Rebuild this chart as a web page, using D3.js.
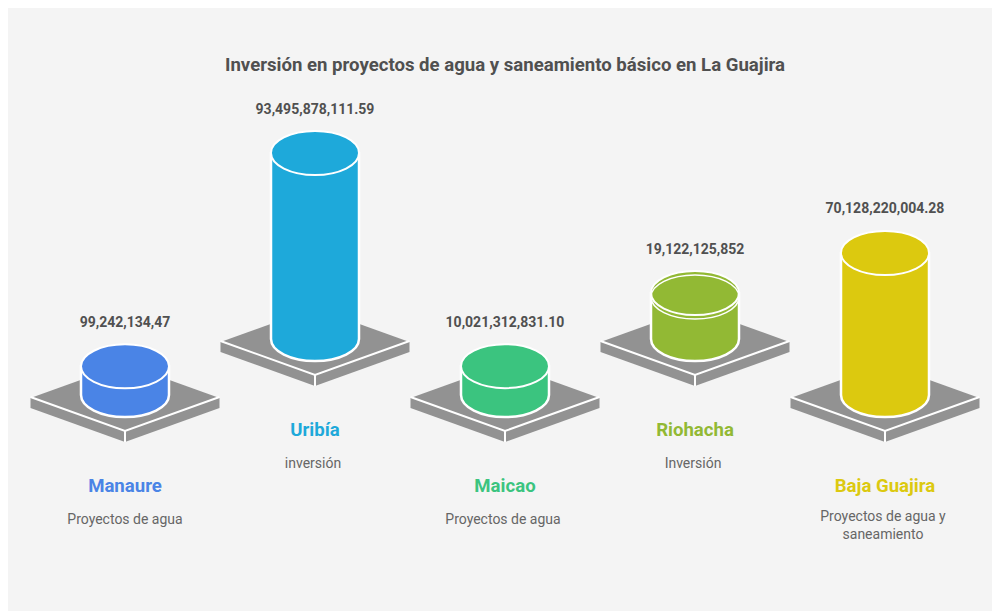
<!DOCTYPE html>
<html>
<head>
  <meta charset="utf-8">
  <title>Inversión en proyectos de agua y saneamiento básico en La Guajira</title>
  <script src="https://d3js.org/d3.v7.min.js"></script>
  <style>
    html, body { margin: 0; padding: 0; background: #fff; }
    svg { display: block; font-family: Roboto, sans-serif; }
  </style>
</head>
<body>
  <div id="chart"></div>
  <script>
    const categories = ["Manaure", "Uribía", "Maicao", "Riohacha", "Baja Guajira"];
    // heights in the picture follow these amounts, in thousands of millions
    const amounts = [9.924, 93.496, 10.021, 19.122, 70.128];
    const valueLabels = ["99,242,134,47", "93,495,878,111.59", "10,021,312,831.10", "19,122,125,852", "70,128,220,004.28"];
    const descriptions = [["Proyectos de agua"], ["inversión"], ["Proyectos de agua"], ["Inversión"], ["Proyectos de agua y", "saneamiento"]];
    const colors = ["#4a84e6", "#1ea9da", "#3bc47f", "#92b934", "#dcc90f"];

    const width = 992, height = 611;
    const rx = 44, ry = 22;
    const plateW = 94.5, plateH = 34, plateDepth = 10;

    const svg = d3.select("#chart").append("svg").attr("width", width).attr("height", height);
    svg.append("rect").attr("x", 8).attr("y", 8).attr("width", width - 8).attr("height", height - 8).attr("fill", "#f4f4f4");

    svg.append("text")
      .attr("x", 505).attr("y", 70.5)
      .attr("text-anchor", "middle")
      .attr("font-size", 18.6).attr("font-weight", 700).attr("fill", "#505050")
      .text("Inversión en proyectos de agua y saneamiento básico en La Guajira");

    const x = d3.scalePoint().domain(categories).range([125, 885]);
    const h = d3.scaleLinear().domain([0, 93.496]).range([10, 186]);
    // odd items sit one row higher
    const plateY = i => i % 2 ? 342 : 398;

    const items = svg.selectAll("g.item").data(categories).enter().append("g").attr("class", "item");

    items.each(function(name, i) {
      const g = d3.select(this);
      const cx = x(name), py = plateY(i);
      const baseY = py - 3;
      const topY = baseY - h(amounts[i]);

      // plate
      g.append("path")
        .attr("d", `M${cx - plateW},${py} L${cx},${py - plateH} L${cx + plateW},${py} L${cx + plateW},${py + plateDepth} L${cx},${py + plateH + plateDepth} L${cx - plateW},${py + plateDepth} Z`)
        .attr("fill", "#929292");
      g.append("path")
        .attr("d", `M${cx - plateW},${py - 1} L${cx},${py + plateH - 1} L${cx + plateW},${py - 1} M${cx},${py + plateH - 1} L${cx},${py + plateH + plateDepth}`)
        .attr("fill", "none").attr("stroke", "#fff").attr("stroke-width", 2);

      // cylinder
      g.append("path")
        .attr("d", `M${cx - rx},${topY} L${cx - rx},${baseY} A${rx},${ry} 0 0 0 ${cx + rx},${baseY} L${cx + rx},${topY} Z`)
        .attr("fill", colors[i]).attr("stroke", "#fff").attr("stroke-width", 2.5);
      g.append("ellipse")
        .attr("cx", cx).attr("cy", topY).attr("rx", rx).attr("ry", ry)
        .attr("fill", colors[i]).attr("stroke", "#fff").attr("stroke-width", 2);

      // Riohacha has a double rim
      if (name === "Riohacha") {
        g.append("ellipse")
          .attr("cx", cx).attr("cy", topY + 4).attr("rx", rx).attr("ry", ry)
          .attr("fill", "none").attr("stroke", "#fff").attr("stroke-width", 1.5);
      }

      // texts
      g.append("text")
        .attr("x", cx).attr("y", topY - ry - 17.5)
        .attr("text-anchor", "middle")
        .attr("font-size", 14).attr("font-weight", 700).attr("fill", "#505050")
        .text(valueLabels[i]);
      g.append("text")
        .attr("x", cx).attr("y", py + 94)
        .attr("text-anchor", "middle")
        .attr("font-size", 18.6).attr("font-weight", 700).attr("fill", colors[i])
        .text(name);

      const lines = descriptions[i];
      const descY = lines.length > 1 ? py + 123 : py + 126;
      lines.forEach((line, k) => {
        g.append("text")
          .attr("x", i ? cx - 2 : cx).attr("y", descY + k * 17.5)
          .attr("text-anchor", "middle")
          .attr("font-size", 14).attr("fill", "#666")
          .text(line);
      });
    });
  </script>
</body>
</html>
